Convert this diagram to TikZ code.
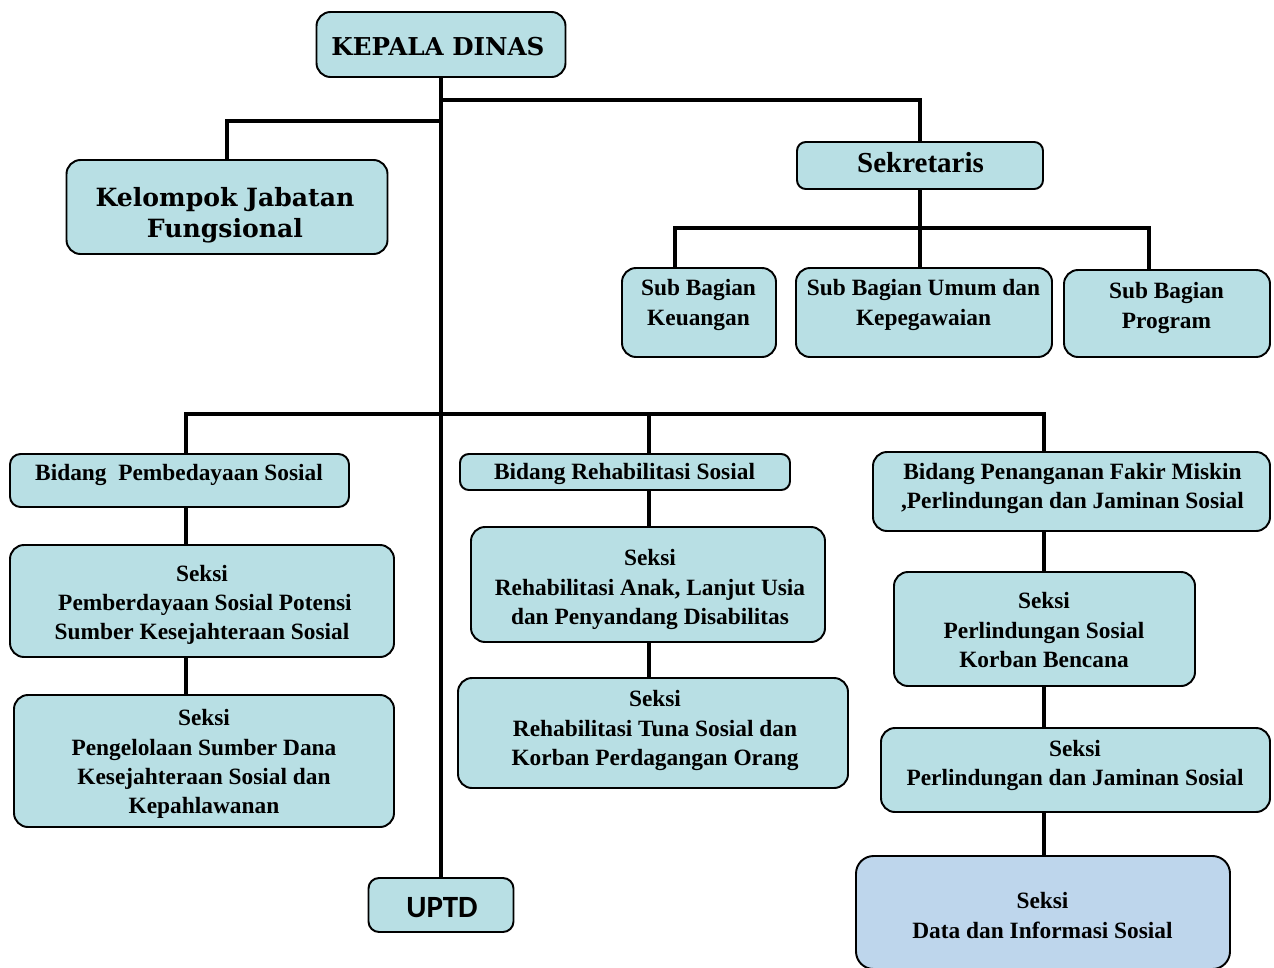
\documentclass[tikz,border=0pt]{standalone}
\usepackage{fontspec}
\setmainfont{Liberation Serif}
\newfontfamily\headfont{DejaVu Serif}
\newfontfamily\unitfont{Carlito}
\usetikzlibrary{calc}
\definecolor{boxcyan}{RGB}{184,223,228}
\definecolor{boxblue}{RGB}{190,214,236}
\def\px{0.02cm}

\begin{document}
\begin{tikzpicture}[x=0.02cm, y=-0.02cm,
		box/.style={draw, line width=1.1pt, rounded corners=8pt, fill=boxcyan, inner sep=0pt},
		txt/.style={align=center, inner sep=0pt, font=\bfseries\fontsize{13.3}{16.6}\selectfont},
		conn/.style={line width=2.8pt}]
		%%%%% START %%%%%
		\useasboundingbox (0,0) rectangle (1274,967);
		
		% top
		\node[box, minimum width=249*\px, minimum height=65*\px] (kd) at (441,44.5) {};
		\node[txt, font=\headfont\bfseries\fontsize{14}{17}\selectfont] (kd-t) at (438,47) {KEPALA DINAS};
		\node[box, minimum width=321*\px, minimum height=94*\px] (kjf) at (227,207) {};
		\node[txt, font=\headfont\bfseries\fontsize{14.3}{17.6}\selectfont] (kjf-t) at (225,215.5) {Kelompok Jabatan\\Fungsional};
		\node[box, rounded corners=5pt, minimum width=246*\px, minimum height=47*\px] (sek) at (920,165.5) {};
		\node[txt, font=\bfseries\fontsize{16.5}{19}\selectfont] (sek-t) at (920.5,162.5) {Sekretaris};
		
		% sub bagian
		\node[box, minimum width=154*\px, minimum height=89*\px] (sbk) at (699,312.5) {};
		\node[txt] (sbk-t) at (698.5,305) {Sub Bagian\\Keuangan};
		\node[box, minimum width=256*\px, minimum height=89*\px] (sbu) at (924,312.5) {};
		\node[txt] (sbu-t) at (923.5,305) {Sub Bagian Umum dan\\Kepegawaian};
		\node[box, minimum width=206*\px, minimum height=87*\px] (sbp) at (1167,313.5) {};
		\node[txt] (sbp-t) at (1166.5,308) {Sub Bagian\\Program};
		
		% bidang
		\node[box, rounded corners=6pt, minimum width=339*\px, minimum height=53*\px] (bps) at (179.5,480.5) {};
		\node[txt] (bps-t) at (179,475) {Bidang\ \ Pembedayaan Sosial};
		\node[box, rounded corners=5pt, minimum width=330*\px, minimum height=36*\px] (brs) at (625,472) {};
		\node[txt] (brs-t) at (624.5,474) {Bidang Rehabilitasi Sosial};
		\node[box, minimum width=397*\px, minimum height=79*\px] (bpf) at (1071.5,491.5) {};
		\node[txt] (bpf-t) at (1072.5,488.5) {Bidang Penanganan Fakir Miskin\\,Perlindungan dan Jaminan Sosial};
		
		% seksi
		\node[box, minimum width=384*\px, minimum height=112*\px] (sps) at (202,601) {};
		\node[txt] (sps-t) at (202,605) {Seksi\\\ Pemberdayaan Sosial Potensi\\Sumber Kesejahteraan Sosial};
		\node[box, minimum width=380*\px, minimum height=132*\px] (spd) at (204,761) {};
		\node[txt] (spd-t) at (204,764) {Seksi\\Pengelolaan Sumber Dana\\Kesejahteraan Sosial dan\\Kepahlawanan};
		\node[box, minimum width=354*\px, minimum height=115*\px] (sra) at (648,584.5) {};
		\node[txt] (sra-t) at (650,589.5) {Seksi\\Rehabilitasi Anak, Lanjut Usia\\dan Penyandang Disabilitas};
		\node[box, minimum width=390*\px, minimum height=110*\px] (srt) at (653,733) {};
		\node[txt] (srt-t) at (655,730.5) {Seksi\\Rehabilitasi Tuna Sosial dan\\Korban Perdagangan Orang};
		\node[box, minimum width=301*\px, minimum height=114*\px] (spb) at (1044.5,629) {};
		\node[txt] (spb-t) at (1044,630) {Seksi\\Perlindungan Sosial\\Korban Bencana};
		\node[box, minimum width=389*\px, minimum height=84*\px] (spj) at (1075.5,770) {};
		\node[txt] (spj-t) at (1075,765.5) {Seksi\\Perlindungan dan Jaminan Sosial};
		\node[box, fill=boxblue, rounded corners=10pt, minimum width=374*\px, minimum height=113*\px] (sdi) at (1043,912.5) {};
		\node[txt] (sdi-t) at (1042.5,915.5) {Seksi\\Data dan Informasi Sosial};
		
		\node[box, rounded corners=6pt, minimum width=145*\px, minimum height=54*\px] (uptd) at (441,905) {};
		\node[txt, font=\unitfont\bfseries\fontsize{17.6}{20}\selectfont] (uptd-t) at (442,908) {UPTD};
		
		% connectors
		\coordinate (sbL) at (675,228);
		\coordinate (sbR) at (1149,228);
		\coordinate (colL) at (186,414);
		\coordinate (colM) at (649,414);
		\coordinate (colR) at (1044,414);
		
		\draw[conn] (kd.south) -- (kd.south |- uptd.north);
		\draw[conn] (kd.south |- 0,100) -| (sek.north);
		\draw[conn] (kd.south |- 0,121) -| (kjf.north);
		
		\draw[conn] (sek.south) -- (sek.south |- sbu.north);
		\draw[conn] (sbL |- sbk.north) -- (sbL) -- (sbR) -- (sbR |- sbp.north);
		
		\draw[conn] (colL |- bps.north) -- (colL) -- (colR) -- (colR |- bpf.north);
		\draw[conn] (colM) -- (colM |- brs.north);
		
		\draw[conn] (colL |- bps.south) -- (colL |- sps.north);
		\draw[conn] (colL |- sps.south) -- (colL |- spd.north);
		\draw[conn] (colM |- brs.south) -- (colM |- sra.north);
		\draw[conn] (colM |- sra.south) -- (colM |- srt.north);
		\draw[conn] (colR |- bpf.south) -- (colR |- spb.north);
		\draw[conn] (colR |- spb.south) -- (colR |- spj.north);
		\draw[conn] (colR |- spj.south) -- (colR |- sdi.north);
		
		%%%%% END %%%%%
	\end{tikzpicture}
\end{document}
